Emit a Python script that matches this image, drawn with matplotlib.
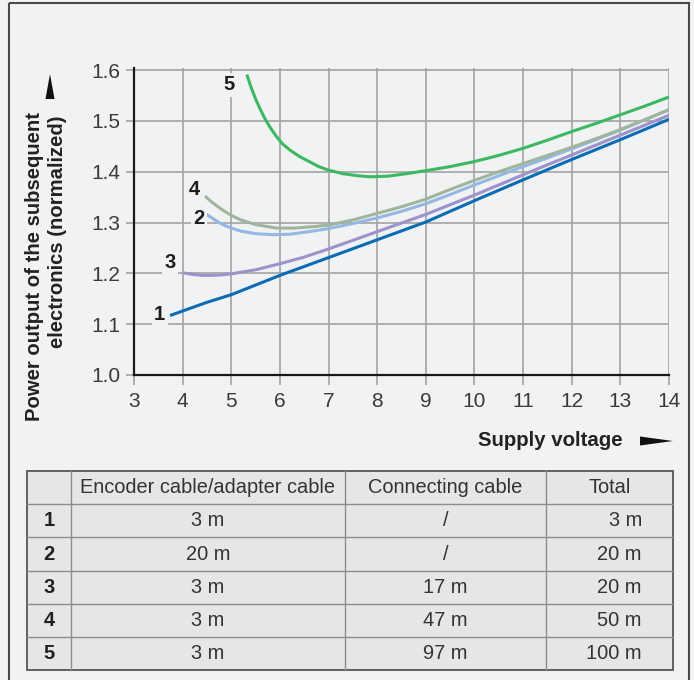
import numpy as np
import matplotlib
matplotlib.use('Agg')
import matplotlib.pyplot as plt
from matplotlib.patches import Polygon, Rectangle

plt.rcParams['font.family'] = ['Liberation Sans', 'DejaVu Sans']

# curve data (supply voltage, normalized power)
v1 = [3.74, 4.5, 5.0, 6.0, 7.0, 8.0, 9.0, 10.0, 11.0, 12.0, 13.0, 14.0]
p1 = [1.117, 1.143, 1.158, 1.196, 1.231, 1.266, 1.301, 1.343, 1.384, 1.424, 1.463, 1.503]

v2 = [4.46, 4.6, 4.8, 5.0, 5.2, 5.5, 5.86, 6.2, 6.6, 7.0, 7.5, 8.0, 8.5, 9.0, 9.5,
      10.0, 10.5, 11.0, 11.5, 12.0, 12.5, 13.0, 13.5, 14.0]
p2 = [1.318, 1.309, 1.297, 1.289, 1.283, 1.278, 1.276, 1.277, 1.282, 1.288, 1.298, 1.309, 1.322, 1.337, 1.355,
      1.374, 1.392, 1.410, 1.427, 1.445, 1.463, 1.482, 1.502, 1.522]

v3 = [4.01, 4.2, 4.4, 4.6, 4.8, 5.0, 5.5, 6.0, 6.5, 7.0, 7.5, 8.0, 8.5, 9.0,
      10.0, 11.0, 12.0, 13.0, 14.0]
p3 = [1.201, 1.198, 1.196, 1.196, 1.197, 1.199, 1.207, 1.219, 1.232, 1.248, 1.265, 1.282, 1.299, 1.316,
      1.354, 1.394, 1.433, 1.472, 1.511]

v4 = [4.46, 4.6, 4.8, 5.0, 5.2, 5.5, 5.93, 6.3, 6.7, 7.0, 7.5, 8.0, 8.5, 9.0, 9.5,
      10.0, 10.5, 11.0, 11.5, 12.0, 12.5, 13.0, 13.5, 14.0]
p4 = [1.352, 1.340, 1.326, 1.314, 1.305, 1.296, 1.289, 1.289, 1.292, 1.295, 1.305, 1.318, 1.331, 1.346, 1.365,
      1.383, 1.400, 1.416, 1.432, 1.448, 1.465, 1.483, 1.502, 1.522]

v5 = [5.32, 5.4, 5.5, 5.6, 5.7, 5.8, 5.93, 6.05, 6.2, 6.4, 6.6, 6.8, 7.0, 7.3, 7.6, 7.85,
      8.2, 8.6, 9.0, 9.5, 10.0, 10.5, 11.0, 11.5, 12.0, 12.5, 13.0, 13.5, 14.0]
p5 = [1.591, 1.568, 1.543, 1.522, 1.503, 1.487, 1.469, 1.455, 1.443, 1.430, 1.420, 1.410, 1.403, 1.396, 1.392, 1.390,
      1.391, 1.396, 1.402, 1.410, 1.420, 1.432, 1.446, 1.462, 1.479, 1.495, 1.512, 1.529, 1.547]

curves = [(v1, p1), (v2, p2), (v3, p3), (v4, p4), (v5, p5)]
curve_colors = ['#0b6cb5', '#94b8e4', '#9c92cc', '#9fb59c', '#3db862']
curve_labels = ['1', '2', '3', '4', '5']
label_pos = [(3.53, 1.12), (4.34, 1.308), (3.74, 1.221), (4.25, 1.365), (4.96, 1.571)]

x_ticks = list(range(3, 15))
y_ticks = [1.0, 1.1, 1.2, 1.3, 1.4, 1.5, 1.6]

# cable table
row_ids = ['1', '2', '3', '4', '5']
headers = ['', 'Encoder cable/adapter cable', 'Connecting cable', 'Total']
encoder_len = ['3 m', '20 m', '3 m', '3 m', '3 m']
connect_len = ['/', '/', '17 m', '47 m', '97 m']
total_len = ['3 m', '20 m', '20 m', '50 m', '100 m']

W, H = 694, 680
BG = '#f1f2f4'
GRID = '#a3a3a3'

fig = plt.figure(figsize=(W / 100, H / 100), dpi=100, facecolor=BG)

# overlay in pixel coordinates for frame, arrows and table
over = fig.add_axes([0, 0, 1, 1], zorder=0)
over.set_xlim(0, W)
over.set_ylim(H, 0)
over.axis('off')
over.add_patch(Rectangle((9, 3), 680, 690, fill=False, edgecolor='#4a4a4a', lw=1.5))

# main plot
ax = fig.add_axes([134 / W, 1 - 375 / H, 535 / W, 307.5 / H], zorder=1)
ax.patch.set_alpha(0)
ax.set_xlim(3, 14)
ax.set_ylim(1.0, 1.605)
ax.set_xticks(x_ticks)
ax.set_yticks(y_ticks)
ax.set_yticklabels(['%.1f' % t for t in y_ticks])
ax.grid(True, color=GRID, lw=1.2)
ax.tick_params(axis='x', direction='out', length=7, width=1.2, color=GRID,
               labelsize=15, labelcolor='#3a3a3a', pad=5)
ax.tick_params(axis='y', direction='out', length=6, width=1.2, color=GRID,
               labelsize=15, labelcolor='#3a3a3a', pad=4)
for s in ['top', 'right']:
    ax.spines[s].set_visible(False)
for s in ['left', 'bottom']:
    ax.spines[s].set_color('#1a1a1a')
    ax.spines[s].set_linewidth(1.6)
    ax.spines[s].set_zorder(3)

for (v, p), c in zip(curves, curve_colors):
    ax.plot(v, p, color=c, lw=2.2, solid_capstyle='butt', solid_joinstyle='round', zorder=4)

for lab, (lx, ly) in zip(curve_labels, label_pos):
    ax.text(lx, ly, lab, ha='center', va='center', fontsize=14.5, fontweight='bold',
            color='#1e1e1e', zorder=5,
            bbox=dict(boxstyle='square,pad=0.12', fc=BG, ec='none'))

# axis titles and arrows
over.text(35, 112, 'Power output of the subsequent', rotation=90, ha='center', va='top',
          fontsize=14.6, fontweight='bold', color='#222222')
over.text(58, 115, 'electronics (normalized)', rotation=90, ha='center', va='top',
          fontsize=14.6, fontweight='bold', color='#222222')
over.add_patch(Polygon([[45.5, 99], [54.5, 99], [50, 74]], closed=True, fc='#111111', ec='none'))
over.text(623, 441, 'Supply voltage', ha='right', va='center',
          fontsize=14.7, fontweight='bold', color='#222222')
over.add_patch(Polygon([[640, 436.5], [640, 445.5], [673, 441]], closed=True, fc='#111111', ec='none'))

# table
col_x = [27, 71, 345, 546, 673]
row_y = [471 + 33.2 * i for i in range(7)]
over.add_patch(Rectangle((col_x[0], row_y[0]), col_x[-1] - col_x[0], row_y[-1] - row_y[0],
                         fc='#e5e6e8', ec='none'))
for yy in row_y[1:-1]:
    over.plot([col_x[0], col_x[-1]], [yy, yy], color='#8c8c8c', lw=1.0)
for xx in col_x[1:-1]:
    over.plot([xx, xx], [row_y[0], row_y[-1]], color='#8c8c8c', lw=1.0)
over.add_patch(Rectangle((col_x[0], row_y[0]), col_x[-1] - col_x[0], row_y[-1] - row_y[0],
                         fill=False, ec='#555555', lw=1.3))

def cell_y(i):
    return (row_y[i] + row_y[i + 1]) / 2

tkw = dict(fontsize=14.4, color='#333333', va='center')
for j, h in enumerate(headers):
    if h:
        over.text((col_x[j] + col_x[j + 1]) / 2, cell_y(0), h, ha='center', **tkw)
for i in range(len(row_ids)):
    yy = cell_y(i + 1)
    over.text((col_x[0] + col_x[1]) / 2, yy, row_ids[i], ha='center', va='center',
              fontsize=14.5, fontweight='bold', color='#222222')
    over.text((col_x[1] + col_x[2]) / 2, yy, encoder_len[i], ha='center', **tkw)
    over.text((col_x[2] + col_x[3]) / 2, yy, connect_len[i], ha='center', **tkw)
    over.text(col_x[4] - 31, yy, total_len[i], ha='right', **tkw)

fig.savefig('out.png', dpi=100, facecolor=BG)
